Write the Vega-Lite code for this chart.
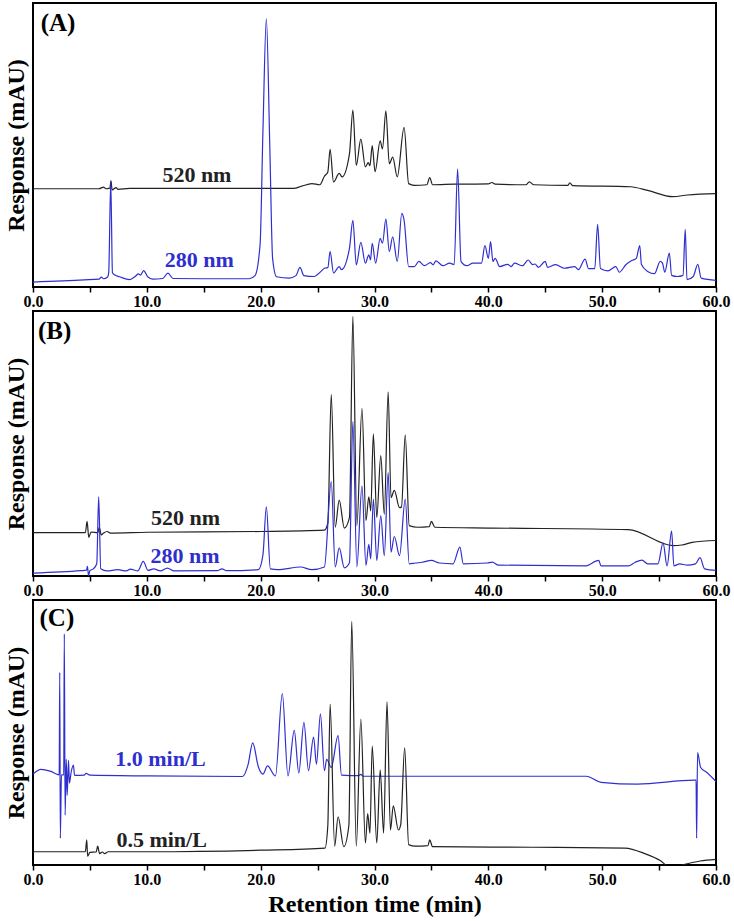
{
 "$schema": "https://vega.github.io/schema/vega-lite/v6.json",
 "padding": {"left": 3, "top": 2, "right": 5, "bottom": 0},
 "background": "white",
 "config": {
  "view": {"stroke": "black", "strokeWidth": 2},
  "font": "Liberation Serif",
  "axisX": {"values": [0,2.5,5,7.5,10,12.5,15,17.5,20,22.5,25,27.5,30,32.5,35,37.5,40,42.5,45,47.5,50,52.5,55,57.5,60],
   "labelExpr": "datum.value % 10 === 0 ? format(datum.value, '.1f') : ''",
   "grid": false, "domain": false, "tickColor": "black", "tickSize": 5, "tickWidth": 1.5,
   "labelFontSize": 16, "labelFontWeight": "bold", "labelColor": "black", "labelPadding": 1, "labelFont": "Liberation Serif",
   "labelFlush": false, "labelOverlap": false,
   "titleFontSize": 24, "titleFontWeight": "bold", "titleColor": "black", "titlePadding": 5, "titleFont": "Liberation Serif"},
  "axisY": {"labels": false, "ticks": false, "domain": false, "grid": false, "titleFont": "Liberation Serif",
   "titleFontSize": 24, "titleFontWeight": "bold", "titleColor": "black", "titlePadding": 5}
 },
 "datasets": {
  "A": [
   {"t":0,"r":34.6,"s":"520 nm"},{"t":5.8,"r":34.6,"s":"520 nm"},{"t":6.2,"r":35.2,"s":"520 nm"},{"t":6.4,"r":34.6,"s":"520 nm"},{"t":6.75,"r":34.8,"s":"520 nm"},{"t":6.85,"r":37.4,"s":"520 nm"},{"t":6.95,"r":34.2,"s":"520 nm"},{"t":7.3,"r":35.0,"s":"520 nm"},{"t":7.45,"r":34.4,"s":"520 nm"},{"t":8.5,"r":34.7,"s":"520 nm"},{"t":15,"r":34.7,"s":"520 nm"},{"t":22.9,"r":34.7,"s":"520 nm"},{"t":23.6,"r":35.5,"s":"520 nm"},{"t":24.5,"r":36.4,"s":"520 nm"},{"t":25.2,"r":36.0,"s":"520 nm"},{"t":25.6,"r":39.0,"s":"520 nm"},{"t":25.9,"r":40.5,"s":"520 nm"},{"t":26.1,"r":48.5,"s":"520 nm"},{"t":26.4,"r":37.0,"s":"520 nm"},{"t":26.9,"r":40.0,"s":"520 nm"},{"t":27.15,"r":38.8,"s":"520 nm"},{"t":27.8,"r":46.9,"s":"520 nm"},{"t":28.1,"r":62.3,"s":"520 nm"},{"t":28.4,"r":42.8,"s":"520 nm"},{"t":28.8,"r":52.1,"s":"520 nm"},{"t":29.2,"r":42.3,"s":"520 nm"},{"t":29.45,"r":43.8,"s":"520 nm"},{"t":29.6,"r":42.7,"s":"520 nm"},{"t":29.8,"r":49.8,"s":"520 nm"},{"t":30.05,"r":40.6,"s":"520 nm"},{"t":30.5,"r":51.5,"s":"520 nm"},{"t":30.7,"r":48.6,"s":"520 nm"},{"t":31.0,"r":62.0,"s":"520 nm"},{"t":31.3,"r":43.4,"s":"520 nm"},{"t":31.6,"r":45.7,"s":"520 nm"},{"t":32.0,"r":38.8,"s":"520 nm"},{"t":32.6,"r":56.2,"s":"520 nm"},{"t":33.0,"r":36.4,"s":"520 nm"},{"t":33.5,"r":35.8,"s":"520 nm"},{"t":34.6,"r":36.0,"s":"520 nm"},{"t":34.85,"r":38.5,"s":"520 nm"},{"t":35.1,"r":36.0,"s":"520 nm"},{"t":37.0,"r":36.2,"s":"520 nm"},{"t":40.0,"r":36.3,"s":"520 nm"},{"t":40.3,"r":36.8,"s":"520 nm"},{"t":40.6,"r":36.2,"s":"520 nm"},{"t":43.3,"r":36.0,"s":"520 nm"},{"t":43.6,"r":37.0,"s":"520 nm"},{"t":44.0,"r":36.0,"s":"520 nm"},{"t":47.0,"r":35.8,"s":"520 nm"},{"t":47.15,"r":36.7,"s":"520 nm"},{"t":47.4,"r":35.7,"s":"520 nm"},{"t":52.5,"r":35.3,"s":"520 nm"},{"t":54.0,"r":34.0,"s":"520 nm"},{"t":56.2,"r":31.8,"s":"520 nm"},{"t":57.5,"r":32.4,"s":"520 nm"},{"t":60,"r":32.9,"s":"520 nm"},
   {"t":0,"r":1.75,"s":"280 nm"},{"t":4.5,"r":2.5,"s":"280 nm"},{"t":5.8,"r":2.8,"s":"280 nm"},{"t":6.0,"r":3.5,"s":"280 nm"},{"t":6.2,"r":2.9,"s":"280 nm"},{"t":6.55,"r":3.5,"s":"280 nm"},{"t":6.65,"r":5.0,"s":"280 nm"},{"t":6.83,"r":37.2,"s":"280 nm"},{"t":6.98,"r":5.0,"s":"280 nm"},{"t":7.2,"r":4.2,"s":"280 nm"},{"t":7.6,"r":3.6,"s":"280 nm"},{"t":8.5,"r":2.6,"s":"280 nm"},{"t":9.0,"r":3.8,"s":"280 nm"},{"t":9.25,"r":4.6,"s":"280 nm"},{"t":9.45,"r":4.2,"s":"280 nm"},{"t":9.72,"r":5.8,"s":"280 nm"},{"t":10.1,"r":3.5,"s":"280 nm"},{"t":10.5,"r":2.8,"s":"280 nm"},{"t":11.4,"r":3.0,"s":"280 nm"},{"t":11.85,"r":4.9,"s":"280 nm"},{"t":12.3,"r":3.0,"s":"280 nm"},{"t":15.0,"r":2.9,"s":"280 nm"},{"t":19.0,"r":2.9,"s":"280 nm"},{"t":19.5,"r":4.0,"s":"280 nm"},{"t":19.95,"r":15,"s":"280 nm"},{"t":20.2,"r":55,"s":"280 nm"},{"t":20.5,"r":94.4,"s":"280 nm"},{"t":20.8,"r":50,"s":"280 nm"},{"t":21.05,"r":10,"s":"280 nm"},{"t":21.4,"r":3.6,"s":"280 nm"},{"t":22.5,"r":3.1,"s":"280 nm"},{"t":23.1,"r":4.0,"s":"280 nm"},{"t":23.45,"r":6.9,"s":"280 nm"},{"t":23.8,"r":4.0,"s":"280 nm"},{"t":24.7,"r":3.7,"s":"280 nm"},{"t":25.3,"r":5.5,"s":"280 nm"},{"t":25.6,"r":6.6,"s":"280 nm"},{"t":25.9,"r":6.8,"s":"280 nm"},{"t":26.1,"r":12.5,"s":"280 nm"},{"t":26.4,"r":4.9,"s":"280 nm"},{"t":26.9,"r":7.2,"s":"280 nm"},{"t":27.1,"r":6.1,"s":"280 nm"},{"t":27.8,"r":13.6,"s":"280 nm"},{"t":28.1,"r":23.5,"s":"280 nm"},{"t":28.4,"r":7.8,"s":"280 nm"},{"t":28.8,"r":15.7,"s":"280 nm"},{"t":29.2,"r":8.4,"s":"280 nm"},{"t":29.5,"r":11.3,"s":"280 nm"},{"t":29.65,"r":9.5,"s":"280 nm"},{"t":29.8,"r":15.4,"s":"280 nm"},{"t":30.1,"r":8.4,"s":"280 nm"},{"t":30.5,"r":17.1,"s":"280 nm"},{"t":30.7,"r":15.4,"s":"280 nm"},{"t":31.0,"r":23.9,"s":"280 nm"},{"t":31.3,"r":12.5,"s":"280 nm"},{"t":31.6,"r":17.7,"s":"280 nm"},{"t":32.0,"r":9.0,"s":"280 nm"},{"t":32.4,"r":25.9,"s":"280 nm"},{"t":32.6,"r":23.5,"s":"280 nm"},{"t":33.0,"r":7.2,"s":"280 nm"},{"t":33.5,"r":7.2,"s":"280 nm"},{"t":33.9,"r":9.0,"s":"280 nm"},{"t":34.4,"r":7.5,"s":"280 nm"},{"t":34.9,"r":8.6,"s":"280 nm"},{"t":35.15,"r":7.8,"s":"280 nm"},{"t":35.4,"r":9.2,"s":"280 nm"},{"t":36.0,"r":7.5,"s":"280 nm"},{"t":36.6,"r":8.4,"s":"280 nm"},{"t":37.0,"r":7.9,"s":"280 nm"},{"t":37.3,"r":41.6,"s":"280 nm"},{"t":37.6,"r":9.0,"s":"280 nm"},{"t":38.1,"r":7.5,"s":"280 nm"},{"t":38.65,"r":8.4,"s":"280 nm"},{"t":39.4,"r":8.4,"s":"280 nm"},{"t":39.7,"r":14.6,"s":"280 nm"},{"t":40.0,"r":10.1,"s":"280 nm"},{"t":40.2,"r":16.0,"s":"280 nm"},{"t":40.4,"r":9.0,"s":"280 nm"},{"t":40.6,"r":10.1,"s":"280 nm"},{"t":41.0,"r":7.2,"s":"280 nm"},{"t":41.7,"r":8.0,"s":"280 nm"},{"t":42.0,"r":7.2,"s":"280 nm"},{"t":42.3,"r":8.4,"s":"280 nm"},{"t":43.0,"r":7.5,"s":"280 nm"},{"t":43.5,"r":9.5,"s":"280 nm"},{"t":43.9,"r":7.9,"s":"280 nm"},{"t":44.1,"r":8.1,"s":"280 nm"},{"t":44.4,"r":6.9,"s":"280 nm"},{"t":45.0,"r":9.0,"s":"280 nm"},{"t":45.2,"r":6.9,"s":"280 nm"},{"t":45.9,"r":7.9,"s":"280 nm"},{"t":46.7,"r":6.6,"s":"280 nm"},{"t":47.6,"r":7.2,"s":"280 nm"},{"t":47.9,"r":6.1,"s":"280 nm"},{"t":48.5,"r":9.8,"s":"280 nm"},{"t":48.8,"r":6.5,"s":"280 nm"},{"t":49.35,"r":6.5,"s":"280 nm"},{"t":49.6,"r":22.1,"s":"280 nm"},{"t":49.85,"r":6.5,"s":"280 nm"},{"t":50.5,"r":5.7,"s":"280 nm"},{"t":51.2,"r":7.2,"s":"280 nm"},{"t":51.5,"r":5.2,"s":"280 nm"},{"t":52.1,"r":7.9,"s":"280 nm"},{"t":52.6,"r":9.3,"s":"280 nm"},{"t":53.0,"r":10.1,"s":"280 nm"},{"t":53.3,"r":14.6,"s":"280 nm"},{"t":53.45,"r":7.9,"s":"280 nm"},{"t":54.0,"r":5.5,"s":"280 nm"},{"t":54.6,"r":4.7,"s":"280 nm"},{"t":55.1,"r":9.0,"s":"280 nm"},{"t":55.3,"r":8.4,"s":"280 nm"},{"t":55.5,"r":5.2,"s":"280 nm"},{"t":55.9,"r":11.9,"s":"280 nm"},{"t":56.1,"r":4.1,"s":"280 nm"},{"t":56.6,"r":3.7,"s":"280 nm"},{"t":57.1,"r":4.1,"s":"280 nm"},{"t":57.3,"r":20.3,"s":"280 nm"},{"t":57.45,"r":2.6,"s":"280 nm"},{"t":58.0,"r":3.7,"s":"280 nm"},{"t":58.4,"r":8.0,"s":"280 nm"},{"t":58.7,"r":3.1,"s":"280 nm"},{"t":60,"r":2.3,"s":"280 nm"}
  ],
  "B": [
   {"t":0,"r":16.4,"s":"520 nm"},{"t":4.6,"r":16.4,"s":"520 nm"},{"t":4.75,"r":20.6,"s":"520 nm"},{"t":4.9,"r":14.6,"s":"520 nm"},{"t":5.1,"r":16.6,"s":"520 nm"},{"t":5.7,"r":16.3,"s":"520 nm"},{"t":5.82,"r":18.4,"s":"520 nm"},{"t":6.0,"r":15.5,"s":"520 nm"},{"t":6.2,"r":16.2,"s":"520 nm"},{"t":6.5,"r":16.8,"s":"520 nm"},{"t":6.8,"r":16.2,"s":"520 nm"},{"t":10,"r":16.5,"s":"520 nm"},{"t":20,"r":16.8,"s":"520 nm"},{"t":25.6,"r":17.3,"s":"520 nm"},{"t":25.9,"r":20,"s":"520 nm"},{"t":26.2,"r":68.5,"s":"520 nm"},{"t":26.55,"r":18.4,"s":"520 nm"},{"t":26.9,"r":28.6,"s":"520 nm"},{"t":27.35,"r":18.1,"s":"520 nm"},{"t":27.8,"r":22,"s":"520 nm"},{"t":28.1,"r":98,"s":"520 nm"},{"t":28.45,"r":19.0,"s":"520 nm"},{"t":28.9,"r":63.3,"s":"520 nm"},{"t":29.25,"r":20.9,"s":"520 nm"},{"t":29.5,"r":29.9,"s":"520 nm"},{"t":29.67,"r":24.6,"s":"520 nm"},{"t":29.9,"r":53.6,"s":"520 nm"},{"t":30.2,"r":22.1,"s":"520 nm"},{"t":30.55,"r":45.4,"s":"520 nm"},{"t":30.86,"r":23.3,"s":"520 nm"},{"t":31.2,"r":69.5,"s":"520 nm"},{"t":31.45,"r":29.6,"s":"520 nm"},{"t":31.74,"r":32.3,"s":"520 nm"},{"t":32.2,"r":25.8,"s":"520 nm"},{"t":32.37,"r":26.0,"s":"520 nm"},{"t":32.7,"r":53.3,"s":"520 nm"},{"t":33.05,"r":19.0,"s":"520 nm"},{"t":33.8,"r":18.4,"s":"520 nm"},{"t":34.8,"r":18.6,"s":"520 nm"},{"t":35.0,"r":20.6,"s":"520 nm"},{"t":35.3,"r":18.4,"s":"520 nm"},{"t":40.3,"r":18.1,"s":"520 nm"},{"t":52.3,"r":17.5,"s":"520 nm"},{"t":56.2,"r":11.5,"s":"520 nm"},{"t":57.0,"r":11.7,"s":"520 nm"},{"t":57.9,"r":12.7,"s":"520 nm"},{"t":60,"r":13.4,"s":"520 nm"},
   {"t":0,"r":1.1,"s":"280 nm"},{"t":4.2,"r":2.0,"s":"280 nm"},{"t":4.7,"r":2.2,"s":"280 nm"},{"t":4.78,"r":3.6,"s":"280 nm"},{"t":4.88,"r":0.2,"s":"280 nm"},{"t":5.0,"r":2.0,"s":"280 nm"},{"t":5.3,"r":2.7,"s":"280 nm"},{"t":5.6,"r":4.6,"s":"280 nm"},{"t":5.77,"r":30,"s":"280 nm"},{"t":5.95,"r":2.7,"s":"280 nm"},{"t":6.5,"r":1.9,"s":"280 nm"},{"t":7.44,"r":2.4,"s":"280 nm"},{"t":8.2,"r":1.9,"s":"280 nm"},{"t":8.55,"r":2.6,"s":"280 nm"},{"t":9.2,"r":1.9,"s":"280 nm"},{"t":9.69,"r":5.5,"s":"280 nm"},{"t":10.1,"r":2.1,"s":"280 nm"},{"t":10.6,"r":2.7,"s":"280 nm"},{"t":11.2,"r":1.9,"s":"280 nm"},{"t":11.8,"r":3.0,"s":"280 nm"},{"t":12.4,"r":1.9,"s":"280 nm"},{"t":16.2,"r":2.0,"s":"280 nm"},{"t":16.6,"r":2.7,"s":"280 nm"},{"t":17.0,"r":2.0,"s":"280 nm"},{"t":19.8,"r":2.4,"s":"280 nm"},{"t":20.2,"r":8,"s":"280 nm"},{"t":20.5,"r":26.1,"s":"280 nm"},{"t":20.85,"r":2.7,"s":"280 nm"},{"t":21.5,"r":2.4,"s":"280 nm"},{"t":23.5,"r":3.4,"s":"280 nm"},{"t":24.5,"r":2.4,"s":"280 nm"},{"t":25.6,"r":3.4,"s":"280 nm"},{"t":26.2,"r":35.6,"s":"280 nm"},{"t":26.55,"r":3.4,"s":"280 nm"},{"t":26.9,"r":10.6,"s":"280 nm"},{"t":27.35,"r":3.1,"s":"280 nm"},{"t":27.8,"r":5,"s":"280 nm"},{"t":28.1,"r":58.3,"s":"280 nm"},{"t":28.45,"r":3.4,"s":"280 nm"},{"t":28.9,"r":34.0,"s":"280 nm"},{"t":29.25,"r":4.0,"s":"280 nm"},{"t":29.5,"r":11.9,"s":"280 nm"},{"t":29.67,"r":6.5,"s":"280 nm"},{"t":29.9,"r":29.0,"s":"280 nm"},{"t":30.2,"r":5.9,"s":"280 nm"},{"t":30.55,"r":22.7,"s":"280 nm"},{"t":30.86,"r":7.7,"s":"280 nm"},{"t":31.2,"r":39.0,"s":"280 nm"},{"t":31.45,"r":9.0,"s":"280 nm"},{"t":31.74,"r":14.9,"s":"280 nm"},{"t":32.2,"r":7.7,"s":"280 nm"},{"t":32.7,"r":29.0,"s":"280 nm"},{"t":33.05,"r":4.6,"s":"280 nm"},{"t":33.6,"r":4.9,"s":"280 nm"},{"t":34.2,"r":5.2,"s":"280 nm"},{"t":35.0,"r":5.9,"s":"280 nm"},{"t":35.7,"r":4.9,"s":"280 nm"},{"t":36.9,"r":4.6,"s":"280 nm"},{"t":37.5,"r":10.9,"s":"280 nm"},{"t":37.8,"r":4.6,"s":"280 nm"},{"t":39.9,"r":4.9,"s":"280 nm"},{"t":40.35,"r":5.2,"s":"280 nm"},{"t":40.9,"r":4.1,"s":"280 nm"},{"t":48.5,"r":3.8,"s":"280 nm"},{"t":49.7,"r":5.9,"s":"280 nm"},{"t":49.9,"r":3.8,"s":"280 nm"},{"t":52.3,"r":3.8,"s":"280 nm"},{"t":52.9,"r":5.2,"s":"280 nm"},{"t":53.5,"r":6.0,"s":"280 nm"},{"t":54.0,"r":4.6,"s":"280 nm"},{"t":54.9,"r":4.6,"s":"280 nm"},{"t":55.35,"r":12.5,"s":"280 nm"},{"t":55.7,"r":3.8,"s":"280 nm"},{"t":56.1,"r":16.9,"s":"280 nm"},{"t":56.3,"r":3.8,"s":"280 nm"},{"t":56.8,"r":4.6,"s":"280 nm"},{"t":57.5,"r":4.1,"s":"280 nm"},{"t":58.2,"r":4.6,"s":"280 nm"},{"t":58.6,"r":6.9,"s":"280 nm"},{"t":59.0,"r":2.7,"s":"280 nm"},{"t":60,"r":2.1,"s":"280 nm"}
  ],
  "C": [
   {"t":0,"r":34.3,"s":"1.0 min/L"},{"t":0.7,"r":36.1,"s":"1.0 min/L"},{"t":1.5,"r":35.4,"s":"1.0 min/L"},{"t":2.2,"r":34.1,"s":"1.0 min/L"},{"t":2.3,"r":34.0,"s":"1.0 min/L"},{"t":2.35,"r":72.7,"s":"1.0 min/L"},{"t":2.4,"r":10.1,"s":"1.0 min/L"},{"t":2.5,"r":34,"s":"1.0 min/L"},{"t":2.7,"r":34,"s":"1.0 min/L"},{"t":2.75,"r":87.2,"s":"1.0 min/L"},{"t":2.82,"r":18.8,"s":"1.0 min/L"},{"t":2.92,"r":39.9,"s":"1.0 min/L"},{"t":3.0,"r":26.3,"s":"1.0 min/L"},{"t":3.12,"r":39.5,"s":"1.0 min/L"},{"t":3.2,"r":30.9,"s":"1.0 min/L"},{"t":3.35,"r":35,"s":"1.0 min/L"},{"t":3.55,"r":37.7,"s":"1.0 min/L"},{"t":3.65,"r":33.8,"s":"1.0 min/L"},{"t":4.5,"r":33.9,"s":"1.0 min/L"},{"t":4.66,"r":34.6,"s":"1.0 min/L"},{"t":5.0,"r":33.9,"s":"1.0 min/L"},{"t":10,"r":33.6,"s":"1.0 min/L"},{"t":18.4,"r":33.4,"s":"1.0 min/L"},{"t":18.9,"r":38,"s":"1.0 min/L"},{"t":19.3,"r":46.1,"s":"1.0 min/L"},{"t":19.8,"r":37,"s":"1.0 min/L"},{"t":20.2,"r":34.3,"s":"1.0 min/L"},{"t":20.6,"r":37.4,"s":"1.0 min/L"},{"t":21.3,"r":33.6,"s":"1.0 min/L"},{"t":21.9,"r":64.7,"s":"1.0 min/L"},{"t":22.4,"r":33.6,"s":"1.0 min/L"},{"t":22.95,"r":50.8,"s":"1.0 min/L"},{"t":23.35,"r":34.7,"s":"1.0 min/L"},{"t":23.8,"r":53.8,"s":"1.0 min/L"},{"t":24.2,"r":35.6,"s":"1.0 min/L"},{"t":24.65,"r":48.3,"s":"1.0 min/L"},{"t":24.9,"r":38.0,"s":"1.0 min/L"},{"t":25.25,"r":57.0,"s":"1.0 min/L"},{"t":25.6,"r":35.6,"s":"1.0 min/L"},{"t":25.8,"r":39.9,"s":"1.0 min/L"},{"t":26.2,"r":36.8,"s":"1.0 min/L"},{"t":26.8,"r":48.8,"s":"1.0 min/L"},{"t":27.1,"r":33.9,"s":"1.0 min/L"},{"t":28.6,"r":33.7,"s":"1.0 min/L"},{"t":28.8,"r":34.2,"s":"1.0 min/L"},{"t":29.0,"r":33.5,"s":"1.0 min/L"},{"t":48.6,"r":33.5,"s":"1.0 min/L"},{"t":49.9,"r":31.2,"s":"1.0 min/L"},{"t":53.1,"r":30.5,"s":"1.0 min/L"},{"t":58.1,"r":32.0,"s":"1.0 min/L"},{"t":58.25,"r":32.0,"s":"1.0 min/L"},{"t":58.3,"r":10.1,"s":"1.0 min/L"},{"t":58.38,"r":42.4,"s":"1.0 min/L"},{"t":58.65,"r":36.8,"s":"1.0 min/L"},{"t":59.2,"r":34.9,"s":"1.0 min/L"},{"t":60,"r":31.5,"s":"1.0 min/L"},
   {"t":0,"r":5.0,"s":"0.5 min/L"},{"t":4.6,"r":5.0,"s":"0.5 min/L"},{"t":4.72,"r":9.5,"s":"0.5 min/L"},{"t":4.8,"r":3.3,"s":"0.5 min/L"},{"t":5.0,"r":4.8,"s":"0.5 min/L"},{"t":5.55,"r":4.9,"s":"0.5 min/L"},{"t":5.68,"r":7.1,"s":"0.5 min/L"},{"t":5.85,"r":4.3,"s":"0.5 min/L"},{"t":6.1,"r":4.9,"s":"0.5 min/L"},{"t":6.3,"r":4.3,"s":"0.5 min/L"},{"t":6.6,"r":5.0,"s":"0.5 min/L"},{"t":10,"r":5.0,"s":"0.5 min/L"},{"t":20,"r":5.6,"s":"0.5 min/L"},{"t":25.65,"r":6.4,"s":"0.5 min/L"},{"t":25.9,"r":15,"s":"0.5 min/L"},{"t":26.1,"r":60.7,"s":"0.5 min/L"},{"t":26.5,"r":7.1,"s":"0.5 min/L"},{"t":26.8,"r":18.2,"s":"0.5 min/L"},{"t":27.3,"r":6.9,"s":"0.5 min/L"},{"t":27.75,"r":15,"s":"0.5 min/L"},{"t":28.0,"r":91.9,"s":"0.5 min/L"},{"t":28.4,"r":7.1,"s":"0.5 min/L"},{"t":28.8,"r":55.1,"s":"0.5 min/L"},{"t":29.2,"r":8.3,"s":"0.5 min/L"},{"t":29.4,"r":19.4,"s":"0.5 min/L"},{"t":29.6,"r":12.0,"s":"0.5 min/L"},{"t":29.8,"r":44.9,"s":"0.5 min/L"},{"t":30.2,"r":8.3,"s":"0.5 min/L"},{"t":30.5,"r":35.9,"s":"0.5 min/L"},{"t":30.8,"r":12.0,"s":"0.5 min/L"},{"t":31.1,"r":61.6,"s":"0.5 min/L"},{"t":31.4,"r":13.2,"s":"0.5 min/L"},{"t":31.65,"r":22.3,"s":"0.5 min/L"},{"t":32.1,"r":13.2,"s":"0.5 min/L"},{"t":32.3,"r":15.1,"s":"0.5 min/L"},{"t":32.65,"r":44.2,"s":"0.5 min/L"},{"t":33.0,"r":7.7,"s":"0.5 min/L"},{"t":33.6,"r":7.1,"s":"0.5 min/L"},{"t":34.7,"r":7.3,"s":"0.5 min/L"},{"t":34.85,"r":9.5,"s":"0.5 min/L"},{"t":35.1,"r":6.9,"s":"0.5 min/L"},{"t":43.9,"r":6.7,"s":"0.5 min/L"},{"t":52.0,"r":6.4,"s":"0.5 min/L"},{"t":53.8,"r":4.2,"s":"0.5 min/L"},{"t":55.1,"r":1.7,"s":"0.5 min/L"},{"t":56.0,"r":-1,"s":"0.5 min/L"},{"t":57.2,"r":0.2,"s":"0.5 min/L"},{"t":58.6,"r":1.5,"s":"0.5 min/L"},{"t":60,"r":2.1,"s":"0.5 min/L"}
  ],
  "LA": [{"t":2.2,"r":93,"label":"(A)","s":"letter"},{"t":14.4,"r":39.5,"label":"520 nm","s":"520 nm"},{"t":14.6,"r":9.4,"label":"280 nm","s":"280 nm"}],
  "LB": [{"t":1.9,"r":92.6,"label":"(B)","s":"letter"},{"t":13.4,"r":21.8,"label":"520 nm","s":"520 nm"},{"t":13.35,"r":7.5,"label":"280 nm","s":"280 nm"}],
  "LC": [{"t":2.1,"r":93.2,"label":"(C)","s":"letter"},{"t":11.2,"r":40.1,"label":"1.0 min/L","s":"1.0 min/L"},{"t":11.3,"r":9.5,"label":"0.5 min/L","s":"0.5 min/L"}]
 },
 "spacing": 0,
 "vconcat": [
  {"width": 683, "height": 284,
   "layer": [
    {"data": {"name": "A"}, "mark": {"type": "line", "interpolate": "monotone", "strokeWidth": 1.2, "clip": true},
     "encoding": {"x": {"field": "t", "type": "quantitative", "scale": {"domain": [0, 60], "nice": false}, "axis": {"title": null}},
      "y": {"field": "r", "type": "quantitative", "scale": {"domain": [0, 100], "nice": false}, "axis": {"title": "Response (mAU)"}},
      "color": {"field": "s", "type": "nominal", "scale": {"domain": ["520 nm","280 nm","1.0 min/L","0.5 min/L","letter"], "range": ["#222222","#2f2fd0","#2f2fd0","#222222","#000000"]}, "legend": null}}},
    {"data": {"name": "LA"}, "mark": {"type": "text", "fontWeight": "bold", "font": "Liberation Serif"},
     "encoding": {"x": {"field": "t", "type": "quantitative"}, "y": {"field": "r", "type": "quantitative"}, "text": {"field": "label"},
      "size": {"condition": {"test": "datum.s === 'letter'", "value": 25}, "value": 22},
      "color": {"field": "s", "type": "nominal", "legend": null}}}
   ]},
  {"width": 683, "height": 265,
   "layer": [
    {"data": {"name": "B"}, "mark": {"type": "line", "interpolate": "monotone", "strokeWidth": 1.2, "clip": true},
     "encoding": {"x": {"field": "t", "type": "quantitative", "scale": {"domain": [0, 60], "nice": false}, "axis": {"title": null}},
      "y": {"field": "r", "type": "quantitative", "scale": {"domain": [0, 100], "nice": false}, "axis": {"title": "Response (mAU)"}},
      "color": {"field": "s", "type": "nominal", "scale": {"domain": ["520 nm","280 nm","1.0 min/L","0.5 min/L","letter"], "range": ["#222222","#2f2fd0","#2f2fd0","#222222","#000000"]}, "legend": null}}},
    {"data": {"name": "LB"}, "mark": {"type": "text", "fontWeight": "bold", "font": "Liberation Serif"},
     "encoding": {"x": {"field": "t", "type": "quantitative"}, "y": {"field": "r", "type": "quantitative"}, "text": {"field": "label"},
      "size": {"condition": {"test": "datum.s === 'letter'", "value": 25}, "value": 22},
      "color": {"field": "s", "type": "nominal", "legend": null}}}
   ]},
  {"width": 683, "height": 265,
   "layer": [
    {"data": {"name": "C"}, "mark": {"type": "line", "interpolate": "monotone", "strokeWidth": 1.2, "clip": true},
     "encoding": {"x": {"field": "t", "type": "quantitative", "scale": {"domain": [0, 60], "nice": false}, "axis": {"title": "Retention time (min)"}},
      "y": {"field": "r", "type": "quantitative", "scale": {"domain": [0, 100], "nice": false}, "axis": {"title": "Response (mAU)"}},
      "color": {"field": "s", "type": "nominal", "scale": {"domain": ["520 nm","280 nm","1.0 min/L","0.5 min/L","letter"], "range": ["#222222","#2f2fd0","#2f2fd0","#222222","#000000"]}, "legend": null}}},
    {"data": {"name": "LC"}, "mark": {"type": "text", "fontWeight": "bold", "font": "Liberation Serif"},
     "encoding": {"x": {"field": "t", "type": "quantitative"}, "y": {"field": "r", "type": "quantitative"}, "text": {"field": "label"},
      "size": {"condition": {"test": "datum.s === 'letter'", "value": 25}, "value": 22},
      "color": {"field": "s", "type": "nominal", "legend": null}}}
   ]}
 ]
}
